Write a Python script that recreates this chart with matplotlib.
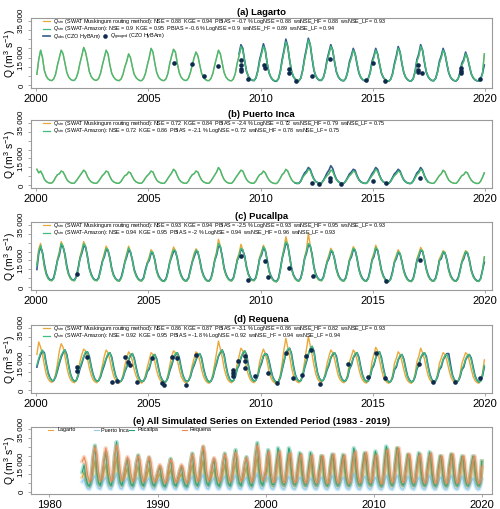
import numpy as np
import matplotlib.pyplot as plt

plt.rcParams['font.family'] = ['Liberation Sans', 'DejaVu Sans']
plt.rcParams['mathtext.fontset'] = 'custom'
plt.rcParams['mathtext.rm'] = 'Liberation Sans'
plt.rcParams['mathtext.it'] = 'Liberation Sans:italic'

# ---- data, discharge in 1000 m3/s, monthly values (Jan..Dec), 2000-2019 ----
lagarto_sim = [
    [6, 14, 19, 15, 8, 5, 3.5, 2.8, 2.6, 3.5, 6, 11],
    [15, 19, 17, 12, 7, 4.5, 3.3, 2.7, 2.7, 4, 7, 12],
    [16, 20.5, 18, 13, 7.5, 4.8, 3.5, 2.8, 2.8, 3.8, 6.5, 11],
    [15, 19, 17, 11, 6.5, 4.5, 3.3, 2.7, 2.6, 3.5, 6, 10],
    [13, 17, 15, 10, 6, 4.2, 3.2, 2.6, 2.6, 3.8, 6.5, 11],
    [15, 20, 18, 12, 7, 4.5, 3.3, 2.7, 2.6, 3.6, 6.5, 12],
    [16, 19.5, 18, 12, 7, 4.5, 3.3, 2.7, 2.7, 4, 7, 11],
    [15, 18, 16, 11, 6.5, 4.3, 3.2, 2.6, 2.6, 3.8, 6.5, 11],
    [15, 19, 17, 12, 7, 4.5, 3.3, 2.6, 2.5, 3.6, 6.5, 12],
    [16, 21, 19, 13, 7.5, 4.8, 3.5, 2.8, 2.7, 4, 7.5, 13],
    [17, 21, 19, 12, 7, 4.5, 3.2, 2.5, 2.4, 3.5, 7, 13],
    [18, 23.5, 21, 14, 8, 5, 3.5, 2.8, 2.6, 4, 8, 14],
    [19, 24.5, 22, 15, 8.5, 5.2, 3.6, 2.9, 2.8, 4.2, 7.5, 13],
    [17, 21, 19, 13, 7.5, 4.8, 3.4, 2.7, 2.6, 3.8, 7, 12],
    [15, 19, 17, 12, 7, 4.5, 3.3, 2.6, 2.6, 3.8, 6.5, 12],
    [15, 19, 17, 12, 7, 4.5, 3.2, 2.5, 2.4, 3.4, 6, 11],
    [15, 20, 18, 12, 7, 4.5, 3.2, 2.5, 2.5, 3.6, 7, 13],
    [16, 21, 19, 13, 7.5, 4.8, 3.4, 2.7, 2.6, 3.8, 7, 12],
    [15, 19, 17, 12, 7, 4.5, 3.3, 2.6, 2.5, 3.6, 6.5, 11],
    [13, 17, 15, 11, 6.5, 4.3, 3.2, 2.6, 2.5, 3.5, 6, 17],
]
# observed Lagarto, 2009-2019
lagarto_obs = [
    [17, 22, 20, 13, 7.5, 4.8, 3.4, 2.7, 2.6, 4, 8, 14],
    [18, 22.5, 19, 12, 6.8, 4.3, 3, 2.3, 2.2, 3.5, 7.5, 14],
    [19, 25, 21, 13.5, 7.5, 4.7, 3.3, 2.6, 2.5, 4, 8.5, 15],
    [20, 25.5, 22, 14.5, 8, 5, 3.4, 2.7, 2.7, 4.2, 8, 14],
    [18, 22, 19, 12.5, 7.2, 4.6, 3.3, 2.6, 2.5, 3.8, 7.5, 13],
    [16, 20, 17, 11.5, 6.7, 4.3, 3.1, 2.5, 2.5, 3.8, 7, 13],
    [16, 20, 17, 11.5, 6.7, 4.3, 3.1, 2.4, 2.3, 3.4, 6.5, 12],
    [16, 21, 18, 11.5, 6.8, 4.3, 3.1, 2.4, 2.4, 3.6, 7.5, 14],
    [17, 22, 19, 12.5, 7.2, 4.6, 3.3, 2.6, 2.5, 3.8, 7.5, 13],
    [16, 20, 17, 11.5, 6.7, 4.3, 3.1, 2.5, 2.4, 3.6, 7, 12],
    [14, 18, 15, 10.5, 6.3, 4.1, 3, 2.5, 2.4, 3.5, 6.5, 11],
]
lagarto_gauged_t = [2006.16, 2006.95, 2007.5, 2008.12, 2009.12, 2009.12, 2009.12, 2009.12,
                    2009.46, 2010.14, 2010.2, 2011.28, 2011.28, 2011.58, 2012.28, 2013.07,
                    2014.68, 2015.0, 2015.55, 2016.99, 2016.99, 2016.99, 2017.2, 2018.9,
                    2018.9, 2018.9, 2019.78]
lagarto_gauged_q = [12.1, 11.4, 5.2, 10.3, 13.7, 11, 8.6, 7.9, 3.4, 11, 9.5, 8.6, 6.5, 2.3,
                    5, 14.2, 2.9, 12.3, 2.3, 11, 8.3, 7.4, 6.5, 6.5, 9.2, 7.7, 3.6]

puerto_inca_sim = [
    [9, 7, 8, 6, 3.5, 2.2, 1.6, 1.3, 1.4, 2.5, 4.5, 6],
    [6.5, 8, 7.5, 5.5, 3.3, 2.1, 1.5, 1.2, 1.3, 2.5, 4, 5.5],
    [7, 8.5, 7.5, 5, 3.2, 2, 1.5, 1.2, 1.3, 2.4, 4, 5.5],
    [6.5, 8, 7.5, 5, 3, 2, 1.5, 1.2, 1.3, 2.3, 4, 5.5],
    [6, 7.5, 7, 4.8, 3, 2, 1.5, 1.2, 1.3, 2.5, 4.2, 5.5],
    [6.5, 8, 7.5, 5, 3, 2, 1.5, 1.2, 1.2, 2.3, 4, 5.5],
    [7, 9, 8, 5.5, 3.3, 2.1, 1.5, 1.2, 1.3, 2.5, 4.5, 6],
    [6.5, 8, 7.5, 5, 3, 2, 1.5, 1.2, 1.3, 2.5, 4.2, 6],
    [7.5, 10, 8.5, 5.5, 3.3, 2.1, 1.5, 1.2, 1.2, 2.3, 4, 5.5],
    [7, 8.5, 8, 5.5, 3.3, 2.1, 1.5, 1.2, 1.3, 2.5, 4.5, 6],
    [6.5, 8, 7, 4.8, 3, 1.9, 1.4, 1.1, 1.1, 2.2, 4, 6],
    [7, 9, 8, 5.5, 3.3, 2, 1.5, 1.2, 1.2, 2.4, 4.5, 6],
    [7, 9, 8.5, 5.5, 3.3, 2.1, 1.5, 1.2, 1.3, 2.5, 4.2, 5.5],
    [6.5, 8.5, 8, 5.3, 3.2, 2, 1.5, 1.2, 1.3, 2.4, 4, 5.5],
    [6.5, 8, 7.5, 5, 3, 2, 1.5, 1.2, 1.2, 2.3, 4, 5.5],
    [7, 9, 8, 5.3, 3.2, 2, 1.5, 1.2, 1.2, 2.3, 4, 5.5],
    [6.5, 8, 7.5, 5, 3, 1.9, 1.4, 1.1, 1.2, 2.3, 4.2, 6],
    [7, 9, 8, 5.3, 3.2, 2, 1.5, 1.2, 1.2, 2.3, 4, 5.5],
    [6.5, 8.5, 7.5, 5, 3, 2, 1.5, 1.2, 1.2, 2.3, 4, 5.5],
    [6, 7.5, 7, 4.8, 3, 1.9, 1.4, 1.1, 1.2, 2.3, 4.5, 7],
]
# observed Puerto Inca, Jul 2011 - Jun 2017
puerto_inca_obs = [1.4, 1.1, 1.2, 2.6, 5, 7,
                   8, 10, 9, 6, 3.6, 2.2, 1.6, 1.2, 1.3, 2.8, 4.8, 7,
                   8.5, 11, 9.5, 6, 3.5, 2.2, 1.5, 1.2, 1.2, 2.6, 4.5, 6.5,
                   7.5, 9, 8.5, 5.5, 3.3, 2.1, 1.5, 1.2, 1.2, 2.5, 4.5, 6.5,
                   8, 10, 9, 5.8, 3.4, 2.1, 1.5, 1.2, 1.2, 2.5, 4.5, 6.5,
                   7.5, 9, 8, 5.3, 3.1, 2, 1.4, 1.1, 1.2, 2.5, 4.8, 7,
                   8, 10, 8.5, 5.5, 3.3, 2]
puerto_inca_gauged_t = [2012.31, 2012.58, 2013.1, 2013.1, 2013.6, 2015.0, 2015.58, 2017.1]
puerto_inca_gauged_q = [1.6, 0.6, 4, 2.5, 0.6, 2.5, 1.2, 4]

pucallpa_sim = [
    [12, 20, 23.5, 19, 12, 7.5, 5, 4, 3.8, 5, 9, 15],
    [19, 24.5, 23, 18, 11, 7, 5, 4, 3.8, 5.5, 9.5, 16],
    [20, 24.5, 23, 17, 10.5, 7, 5, 4, 3.8, 5, 9, 14],
    [18, 21.8, 21, 16, 10, 6.5, 4.8, 3.8, 3.6, 5, 8.5, 14],
    [18, 22, 20, 15, 9.5, 6.5, 4.7, 3.8, 3.7, 5, 9, 13],
    [16, 20, 19.5, 15, 9, 6, 4.5, 3.6, 3.4, 4.5, 8, 14],
    [18, 21, 20.5, 16, 10, 6.5, 4.6, 3.7, 3.6, 5, 9, 14],
    [18, 20.8, 20, 15, 9.5, 6.3, 4.5, 3.6, 3.5, 4.8, 8.5, 15],
    [19, 24.5, 23, 17, 10.5, 7, 5, 3.9, 3.7, 5, 9, 15],
    [18, 21.8, 21, 17, 11, 7, 5, 4, 3.8, 5.2, 9.5, 16],
    [19, 22.7, 21, 15, 9, 6, 4.3, 3.4, 3.2, 4.5, 9, 16],
    [21, 25.5, 24, 17, 10.5, 6.8, 4.8, 3.8, 3.6, 5, 9, 16],
    [20, 24.5, 23.5, 18, 11, 7, 5, 4, 3.8, 5.2, 9, 14],
    [17, 20.8, 20, 15.5, 10, 6.5, 4.7, 3.8, 3.6, 5, 9, 15],
    [18, 21.8, 21, 16, 10, 6.5, 4.6, 3.7, 3.5, 4.8, 8.5, 15],
    [18, 22.3, 21, 15, 9.5, 6.2, 4.4, 3.5, 3.3, 4.5, 8, 14],
    [17, 20, 19, 14, 9, 6, 4.3, 3.5, 3.3, 4.5, 8.5, 15],
    [18, 21, 20.5, 15.5, 10, 6.5, 4.6, 3.7, 3.5, 4.8, 8.5, 15],
    [17, 20, 19.5, 15, 9.5, 6.2, 4.5, 3.6, 3.5, 4.8, 8.5, 14],
    [17, 20, 19.5, 15, 9.5, 6.2, 4.5, 3.6, 3.4, 4.6, 9, 17],
]
pucallpa_musk = [
    [13, 21.5, 24.5, 18.5, 11, 7, 4.8, 3.9, 3.7, 5, 9.5, 16],
    [20, 25.5, 23, 17, 10.5, 6.8, 4.8, 3.9, 3.7, 5.5, 10, 17],
    [21, 25.5, 23, 16.5, 10, 6.8, 4.8, 3.9, 3.7, 5, 9.5, 15],
    [19, 23, 21, 15.5, 9.5, 6.3, 4.7, 3.7, 3.5, 5, 9, 15],
    [19, 23, 20, 14.5, 9, 6.3, 4.6, 3.7, 3.6, 5, 9.5, 14],
    [17, 21, 19.5, 14.5, 8.5, 5.8, 4.4, 3.5, 3.3, 4.5, 8.5, 15],
    [19, 22.5, 20.5, 15.5, 9.5, 6.3, 4.5, 3.6, 3.5, 5, 9.5, 15],
    [19, 21.5, 20, 14.5, 9, 6.1, 4.4, 3.5, 3.4, 4.8, 9, 16],
    [20, 26.8, 23, 16.5, 10, 6.8, 4.9, 3.8, 3.6, 5, 9.5, 16],
    [19, 24, 21, 16.5, 10.5, 6.8, 4.9, 3.9, 3.7, 5.2, 10, 17],
    [20, 23.5, 21, 14.5, 8.5, 5.8, 4.2, 3.3, 3.1, 4.5, 9.5, 17],
    [22, 28.2, 24, 16.5, 10, 6.6, 4.7, 3.7, 3.5, 5, 9.5, 17],
    [21, 30, 23.5, 17.5, 10.5, 6.8, 4.9, 3.9, 3.7, 5.2, 9.5, 15],
    [18, 21.8, 20, 15, 9.5, 6.3, 4.6, 3.7, 3.5, 5, 9.5, 16],
    [19, 22.7, 21, 15.5, 9.5, 6.3, 4.5, 3.6, 3.4, 4.8, 9, 16],
    [19, 23.5, 21, 14.5, 9, 6, 4.3, 3.4, 3.2, 4.5, 8.5, 15],
    [18, 21, 19, 13.5, 8.5, 5.8, 4.2, 3.4, 3.2, 4.5, 9, 16],
    [19, 22.3, 20.5, 15, 9.5, 6.3, 4.5, 3.6, 3.4, 4.8, 9, 16],
    [18, 20.5, 19.5, 14.5, 9, 6, 4.4, 3.5, 3.4, 4.8, 9, 15],
    [18, 20.5, 19.5, 14.5, 9, 6, 4.4, 3.5, 3.3, 4.6, 9.5, 17],
]
pucallpa_obs = [
    [10, 19, 22.5, 19.5, 13, 8, 5.5, 4.3, 4, 5.5, 10, 15],
    [18, 23.5, 22.5, 18.5, 12, 7.5, 5.3, 4.2, 4, 6, 10.5, 16],
    [19, 23, 22.5, 17.5, 11, 7.5, 5.3, 4.2, 4, 5.5, 10, 14.5],
    [17, 21, 20.5, 16.5, 10.5, 7, 5, 4, 3.8, 5.5, 9.5, 14],
    [17, 21, 19.5, 15.5, 10, 7, 5, 4, 3.9, 5.5, 10, 13.5],
    [15, 19, 19, 15.5, 9.5, 6.5, 4.8, 3.8, 3.6, 5, 9, 14],
    [17, 20, 20, 16.5, 10.5, 7, 4.9, 3.9, 3.8, 5.5, 10, 14],
    [17, 20, 19.5, 15.5, 10, 6.8, 4.8, 3.8, 3.7, 5.2, 9.5, 15],
    [18, 23, 22.5, 17.5, 11, 7.5, 5.3, 4.1, 3.9, 5.5, 10, 15],
    [17, 21, 20.5, 17.5, 11.5, 7.5, 5.3, 4.2, 4, 5.7, 10.5, 16],
    [18, 22, 20.5, 15.5, 9.5, 6.5, 4.6, 3.6, 3.4, 5, 10, 16],
    [20, 24.5, 23.5, 17.5, 11, 7.2, 5.1, 4, 3.8, 5.5, 10, 16],
    [19, 23.5, 23, 18.5, 11.5, 7.5, 5.3, 4.2, 4, 5.7, 10, 14],
    [16, 20, 19.5, 16, 10.5, 7, 5, 4, 3.8, 5.5, 10, 15],
    [17, 21, 20.5, 16.5, 10.5, 7, 4.9, 3.9, 3.7, 5.3, 9.5, 15],
    [17, 21.5, 20.5, 15.5, 10, 6.7, 4.7, 3.7, 3.5, 5, 9, 14],
    [16, 19.5, 18.5, 14.5, 9.5, 6.5, 4.6, 3.7, 3.5, 5, 9.5, 15],
    [17, 20.5, 20, 16, 10.5, 7, 4.9, 3.9, 3.7, 5.3, 9.5, 15],
    [16, 19.5, 19, 15.5, 10, 6.7, 4.8, 3.8, 3.7, 5.3, 9.5, 14],
    [16, 19.5, 19, 15.5, 10, 6.7, 4.8, 3.8, 3.6, 5, 9.5, 14],
]
pucallpa_gauged_t = [2001.84, 2009.12, 2009.46, 2010.2, 2010.32, 2011.25, 2012.32, 2015.58, 2017.1]
pucallpa_gauged_q = [7.3, 17.5, 4.2, 14.7, 5.6, 10.6, 6.6, 3.8, 15.3]

requena_sim = [
    [14, 18, 21, 22.5, 20, 14, 9, 6.5, 5.3, 5.5, 8, 12],
    [16, 19.5, 21.5, 22.5, 19, 13, 8.5, 6, 5, 5.5, 8.5, 13],
    [16, 19, 21.5, 21.5, 18, 12.5, 8.5, 6, 5, 5.5, 8, 12],
    [15, 18, 20.5, 21, 17.5, 12, 8, 5.8, 4.8, 5.2, 7.5, 11],
    [14, 17.5, 20, 20.5, 17, 12, 8, 5.8, 4.8, 5.3, 7.5, 11],
    [13, 16.5, 19.5, 20, 16.5, 11.5, 7.5, 5.5, 4.5, 5, 7.5, 12],
    [15, 18, 20.5, 21, 17.5, 12, 8, 5.8, 4.8, 5.5, 8, 12],
    [15, 17.5, 20, 20.5, 17, 11.5, 7.8, 5.6, 4.6, 5.2, 7.8, 12],
    [16, 19.5, 21.5, 22.5, 19, 13, 8.5, 6, 5, 5.5, 8, 12.5],
    [15, 18.5, 21, 22, 19, 13, 8.5, 6, 5, 5.8, 8.5, 13],
    [16, 19.5, 20.5, 19.5, 15.5, 10.5, 7, 5.2, 4.3, 4.8, 7.5, 12],
    [17, 21, 23, 23.5, 19.5, 13, 8.5, 6, 5, 5.5, 8.5, 13],
    [17, 20.5, 23.5, 24.5, 21, 14, 9, 6.3, 5.2, 5.7, 8.5, 12],
    [15, 18.5, 20.5, 21, 18, 12.5, 8.2, 6, 5, 5.5, 8, 12.5],
    [15, 18.5, 20.5, 21, 17.5, 12, 8, 5.8, 4.8, 5.3, 8, 12.5],
    [15, 18.5, 21, 21.5, 17.5, 12, 7.8, 5.6, 4.6, 5, 7.5, 12],
    [14, 17.5, 19.5, 20, 16.5, 11.5, 7.6, 5.5, 4.6, 5.2, 8, 12.5],
    [15, 18.5, 20.5, 21, 18, 12.5, 8.2, 5.8, 4.8, 5.3, 8, 12],
    [14, 17.5, 19.5, 20, 17, 12, 8, 5.7, 4.7, 5.2, 7.8, 12],
    [14, 17.5, 19.5, 20, 17, 12, 7.8, 5.6, 4.6, 5.2, 8.5, 14],
]
requena_musk = [
    [20, 27, 24, 20, 14, 9, 6.5, 5, 4.5, 5.5, 9, 15],
    [22, 26, 24, 19, 13, 8.5, 6, 4.8, 4.3, 5.5, 9.5, 16],
    [20, 23, 22, 18, 12.5, 8.5, 6, 4.8, 4.3, 5.5, 9, 14],
    [19, 22.5, 21, 17, 12, 8, 5.8, 4.6, 4.1, 5.2, 8.5, 14],
    [18, 21.5, 20, 16.5, 11.5, 8, 5.8, 4.6, 4.1, 5.3, 8.5, 13],
    [17, 21, 20, 16, 11, 7.5, 5.5, 4.4, 4, 5, 8.5, 14],
    [19, 22, 21, 17, 12, 8, 5.8, 4.6, 4.1, 5.5, 9, 14],
    [18, 21.5, 20.5, 16.5, 11.5, 7.8, 5.6, 4.5, 4, 5.2, 9, 15],
    [21, 27.5, 23, 18.5, 12.5, 8.5, 6, 4.8, 4.3, 5.5, 9, 15],
    [19, 23.5, 22, 18, 12.5, 8.5, 6, 4.8, 4.3, 5.8, 9.5, 16],
    [20, 23, 20.5, 16, 10.5, 7, 5.2, 4.2, 3.8, 4.8, 8.5, 15],
    [23, 29, 24, 19, 13, 8.5, 6, 4.8, 4.3, 5.5, 9.5, 16],
    [23, 30, 25, 20, 14, 9, 6.3, 5, 4.5, 5.7, 9.5, 15],
    [19, 22.5, 21, 17.5, 12.5, 8.2, 6, 4.8, 4.3, 5.5, 9, 16],
    [19, 22.5, 21, 17, 12, 8, 5.8, 4.6, 4.1, 5.3, 9, 16],
    [20, 24, 22, 17, 12, 7.8, 5.6, 4.5, 4, 5, 8.5, 15],
    [18, 21.5, 20, 16, 11.5, 7.6, 5.5, 4.4, 4, 5.2, 9, 16],
    [19, 23.5, 21, 17.5, 12.5, 8.2, 5.8, 4.6, 4.1, 5.3, 9, 15],
    [18, 21, 20, 16.5, 12, 8, 5.7, 4.5, 4.1, 5.2, 8.8, 15],
    [18, 21, 20, 16.5, 12, 7.8, 5.6, 4.5, 4, 5.2, 9.5, 17],
]
requena_obs = [
    [13, 17, 20, 22, 21, 15, 10, 7, 5.5, 5.5, 7.5, 11],
    [15, 18.5, 21, 22.5, 20, 14, 9, 6.3, 5.2, 5.5, 8, 12],
    [15, 18.5, 21, 21.5, 19, 13.5, 9, 6.3, 5.2, 5.5, 7.5, 11],
    [14, 17.5, 20, 21, 18.5, 13, 8.5, 6, 5, 5.2, 7, 10.5],
    [13, 17, 19.5, 20.5, 18, 13, 8.5, 6, 5, 5.3, 7, 10.5],
    [12, 16, 19, 20, 17.5, 12.5, 8, 5.8, 4.7, 5, 7, 11],
    [14, 17.5, 20, 21, 18.5, 13, 8.5, 6, 5, 5.5, 7.5, 11.5],
    [14, 17, 19.5, 20.5, 18, 12.5, 8.3, 5.8, 4.8, 5.2, 7.3, 11.5],
    [15, 19, 21, 22.5, 20, 14, 9, 6.3, 5.2, 5.5, 7.5, 12],
    [14, 18, 20.5, 22, 20, 14, 9, 6.3, 5.2, 5.8, 8, 12.5],
    [15, 19, 20.5, 20, 16.5, 11.5, 7.5, 5.5, 4.5, 4.8, 7, 11.5],
    [16, 20.5, 22.5, 23.5, 20.5, 14, 9, 6.3, 5.2, 5.5, 8, 12.5],
    [16, 20, 23, 24.5, 22, 15, 9.5, 6.6, 5.4, 5.7, 8, 11.5],
    [14, 18, 20, 21, 19, 13.5, 8.7, 6.3, 5.2, 5.5, 7.5, 12],
    [14, 18, 20, 21, 18.5, 13, 8.5, 6, 5, 5.3, 7.5, 12],
    [14, 18, 20.5, 21.5, 18.5, 13, 8.3, 5.9, 4.8, 5, 7, 11.5],
    [13, 17, 19, 20, 17.5, 12.5, 8, 5.8, 4.8, 5.2, 7.5, 12],
    [14, 18, 20, 21, 19, 13.5, 8.7, 6, 5, 5.3, 7.5, 11.5],
    [13, 17, 19, 20.5, 20.5, 14, 8.5, 6, 4.9, 5.2, 7.3, 11.5],
    [13, 17, 19, 20, 18, 13, 8.3, 5.9, 4.8, 5.2, 8, 13],
]
requena_gauged_t = [2001.84, 2001.81, 2002.26, 2003.4, 2003.6, 2003.97, 2004.11, 2004.19, 2004.52,
                    2005.15, 2005.6, 2005.7, 2006.05, 2006.28, 2006.7, 2007.12, 2008.75, 2008.75,
                    2008.75, 2009.01, 2009.3, 2009.3, 2009.3, 2009.76, 2010.35, 2010.75, 2011.12,
                    2011.46, 2011.83, 2012.03, 2012.24, 2012.65, 2013.91, 2014.8, 2015.14, 2015.55,
                    2017.03, 2017.67, 2018.66, 2019.78]
requena_gauged_q = [13.2, 10.8, 18.8, 4.9, 5.3, 18.8, 15.6, 14.2, 4.5, 18.2, 4, 3, 18.8, 18.2, 3,
                    19.7, 11.4, 9.5, 8.2, 16.4, 19.2, 16.4, 12.7, 8.2, 9.5, 4, 20.6, 6.8, 8.6, 19.4,
                    22.5, 3.4, 14.5, 7.7, 20.6, 7.1, 14.5, 4.5, 4.9, 6.8]

# extended simulation 1983-1999, values for Jan, Mar, May, Jul, Sep, Nov
lagarto_ext = [
    [8, 11, 6, 3.2, 2.5, 5], [13, 17, 8.5, 3.8, 2.8, 6], [12, 15, 7.5, 3.5, 2.7, 5.5],
    [14, 19, 9, 4, 2.9, 6], [10, 13, 7, 3.4, 2.6, 5.5], [11, 14, 7, 3.4, 2.6, 5.5],
    [10, 13, 6.5, 3.3, 2.5, 5], [8, 10, 5.5, 3, 2.3, 5], [10, 12.5, 6.5, 3.3, 2.5, 5],
    [8, 10, 5.5, 3, 2.3, 5], [11, 15, 7.5, 3.5, 2.6, 5.5], [13, 17, 8.5, 3.8, 2.8, 5.5],
    [10, 12.5, 6.5, 3.3, 2.5, 5.5], [11, 15, 7.5, 3.5, 2.6, 5.5], [12, 16, 8, 3.6, 2.7, 6],
    [10, 13.5, 7, 3.4, 2.5, 6], [14, 19, 9, 4, 2.9, 6],
]
puerto_inca_ext = [
    [5.5, 7, 3.5, 1.6, 1.3, 4], [7, 9, 4, 1.8, 1.4, 4.5], [6.5, 8, 3.8, 1.7, 1.3, 4.2],
    [7.5, 10, 4.2, 1.8, 1.4, 4.5], [6, 7.5, 3.6, 1.6, 1.3, 4.2], [6.5, 8, 3.8, 1.7, 1.3, 4.3],
    [6, 7.5, 3.6, 1.6, 1.3, 4], [5.5, 7, 3.4, 1.5, 1.2, 4], [6.5, 8, 3.8, 1.7, 1.3, 4.2],
    [5.5, 7, 3.4, 1.5, 1.2, 4], [6.5, 8.5, 3.9, 1.7, 1.3, 4.3], [7.5, 9.5, 4.1, 1.8, 1.4, 4.5],
    [6, 7.5, 3.6, 1.6, 1.3, 4.2], [6.5, 8.5, 3.9, 1.7, 1.3, 4.3], [7, 9, 4, 1.7, 1.4, 4.5],
    [6.5, 8, 3.8, 1.7, 1.3, 4.3], [7.5, 10, 4.2, 1.8, 1.4, 4.5],
]
pucallpa_ext = [
    [11, 15, 8, 4, 3.2, 7], [19, 26, 12, 5, 3.6, 9], [17, 22, 11, 4.8, 3.5, 8],
    [20, 28, 13, 5.2, 3.7, 9], [14, 18, 9, 4.3, 3.3, 8], [16, 20.5, 10, 4.5, 3.4, 8.5],
    [15, 19, 9.5, 4.4, 3.3, 7.5], [11, 14, 7.5, 3.8, 3, 7], [14, 18.5, 9, 4.3, 3.3, 7.5],
    [11, 14, 7, 3.7, 2.9, 7.5], [16, 21.5, 10.5, 4.6, 3.4, 8.5], [19, 25, 12, 5, 3.6, 8.5],
    [14, 18, 9, 4.3, 3.2, 8], [16, 21.5, 10.5, 4.6, 3.4, 8.5], [18, 23.5, 11, 4.8, 3.5, 9],
    [15, 19.5, 9.5, 4.4, 3.3, 9], [20, 27.5, 13, 5.2, 3.7, 9],
]
requena_ext = [
    [17, 19.5, 16, 9, 5.5, 7], [19, 25, 21, 11, 6, 8], [18, 24.5, 20, 10.5, 5.8, 7.5],
    [20, 26, 22, 11.5, 6.2, 8], [15, 19.5, 17, 9.5, 5.5, 7.5], [16, 20, 17.5, 9.5, 5.5, 7.5],
    [15, 19.5, 16.5, 9, 5.3, 7], [12, 15, 13, 7.5, 4.8, 6.5], [14, 18, 16, 8.5, 5.2, 7],
    [12, 15, 13, 7.5, 4.7, 7], [16, 21, 18, 10, 5.7, 7.5], [19, 25.5, 21.5, 11, 6, 8],
    [15, 19, 16.5, 9, 5.3, 7.5], [16, 21, 18, 9.5, 5.5, 7.5], [17, 22, 19, 10, 5.7, 8],
    [15, 19, 16.5, 9, 5.3, 8], [19, 26, 22.5, 11.5, 6.2, 8],
]

panel_titles = ['(a) Lagarto', '(b) Puerto Inca', '(c) Pucallpa', '(d) Requena']
musk_stats = ['NSE = 0.88  KGE = 0.94  PBIAS = -0.7 % LogNSE = 0.88  wsNSE_HF = 0.88  wsNSE_LF = 0.93',
              'NSE = 0.72  KGE = 0.84  PBIAS = -2.4 % LogNSE = 0.72  wsNSE_HF = 0.79  wsNSE_LF = 0.75',
              'NSE = 0.93  KGE = 0.94  PBIAS = -2.5 % LogNSE = 0.93  wsNSE_HF = 0.95  wsNSE_LF = 0.93',
              'NSE = 0.86  KGE = 0.87  PBIAS = -3.1 % LogNSE = 0.86  wsNSE_HF = 0.82  wsNSE_LF = 0.93']
amazon_stats = ['NSE = 0.9  KGE = 0.95  PBIAS = -0.6 % LogNSE = 0.9  wsNSE_HF = 0.89  wsNSE_LF = 0.94',
                'NSE = 0.72  KGE = 0.86  PBIAS = -2.1 % LogNSE = 0.72  wsNSE_HF = 0.78  wsNSE_LF = 0.75',
                'NSE = 0.94  KGE = 0.95  PBIAS = -2 % LogNSE = 0.94  wsNSE_HF = 0.96  wsNSE_LF = 0.93',
                'NSE = 0.92  KGE = 0.95  PBIAS = -1.8 % LogNSE = 0.92  wsNSE_HF = 0.94  wsNSE_LF = 0.94']
station_names = ['Lagarto', 'Puerto Inca', 'Pucallpa', 'Requena']

C_MUSK = '#EBA83A'
C_AMZ = '#3DBE7E'
C_OBS = '#335C8C'
C_DOT = '#0E2B4D'
C_EXT = ['#EDA53A', '#8DCBF0', '#1FA57A', '#E98A55']
FRAME = '#9a9a9a'

W, H = 500.0, 509.0
tops = [18, 120, 222, 325, 427]
bots = [88, 188, 290, 393, 494]
left, right = 31, 492


def monthly_t(start_year, n, start_month=1):
    k = np.arange(n) + start_month - 1
    return start_year + (k + 0.5) / 12.0


def style_axes(ax, xlim, xticks):
    ax.set_xlim(*xlim)
    ax.set_ylim(-1400, 36400)
    ax.set_xticks(xticks)
    ax.set_xticklabels([str(x) for x in xticks], fontsize=8)
    ax.set_yticks(np.arange(0, 35001, 5000))
    ax.set_yticklabels(['0', '', '', '15 000', '', '', '', '35 000'], fontsize=5.8,
                       rotation=90, va='center')
    ax.tick_params(axis='both', length=2.5, width=0.6, color=FRAME, pad=1.5)
    for s in ax.spines.values():
        s.set_color(FRAME)
        s.set_linewidth(0.8)
    ax.set_ylabel('Q (m$^3$ s$^{-1}$)', fontsize=7.5, va='center')
    ax.yaxis.set_label_coords(-0.045, 0.5)


def to_axes(i, x_px, y_px):
    # pixel position inside panel i -> axes fraction
    return (x_px - left) / (right - left), 1 - (y_px - tops[i]) / (bots[i] - tops[i])


def key_line(ax, i, x0, x1, y, color, lw=0.9):
    a0, b = to_axes(i, x0, y)
    a1, _ = to_axes(i, x1, y)
    ax.plot([a0, a1], [b, b], color=color, lw=lw, transform=ax.transAxes, clip_on=False)


def key_text(ax, i, x, y, s, size):
    a, b = to_axes(i, x, y)
    ax.text(a, b, s, transform=ax.transAxes, fontsize=size, va='center', ha='left')


fig = plt.figure(figsize=(5.0, 5.09), dpi=100)

sim_sets = [lagarto_sim, puerto_inca_sim, pucallpa_sim, requena_sim]
musk_sets = [lagarto_sim, puerto_inca_sim, pucallpa_musk, requena_musk]
obs_sets = [(lagarto_obs, 2009, 1), (puerto_inca_obs, 2011, 7), (pucallpa_obs, 2000, 1),
            (requena_obs, 2000, 1)]
dot_sets = [(lagarto_gauged_t, lagarto_gauged_q), (puerto_inca_gauged_t, puerto_inca_gauged_q),
            (pucallpa_gauged_t, pucallpa_gauged_q), (requena_gauged_t, requena_gauged_q)]

FS_KEY = 3.9
for i in range(4):
    ax = fig.add_axes([left / W, 1 - bots[i] / H, (right - left) / W, (bots[i] - tops[i]) / H])
    sim = np.ravel(sim_sets[i]) * 1000
    musk = np.ravel(musk_sets[i]) * 1000
    obs_vals, oy, om = obs_sets[i]
    obs = np.ravel(obs_vals) * 1000
    t = monthly_t(2000, len(sim))
    ax.plot(t, musk, color=C_MUSK, lw=1.0)
    ax.plot(monthly_t(oy, len(obs), om), obs, color=C_OBS, lw=1.2)
    ax.plot(t, sim, color=C_AMZ, lw=1.0)
    ax.scatter(dot_sets[i][0], np.array(dot_sets[i][1]) * 1000, s=11, color=C_DOT,
               zorder=5, linewidths=0)
    style_axes(ax, (1999.78, 2020.3), [2000, 2005, 2010, 2015, 2020])
    ax.set_title(panel_titles[i], fontsize=6.8, fontweight='bold', pad=2)

    y1, y2, y3 = tops[i] + 3.3, tops[i] + 10.8, tops[i] + 18.3
    key_line(ax, i, 42.5, 50, y1, C_MUSK)
    key_text(ax, i, 53, y1, r'$Q_{\mathrm{sim}}$ (SWAT Muskingum routing method): ' + musk_stats[i], FS_KEY)
    key_line(ax, i, 42.5, 50, y2, C_AMZ)
    key_text(ax, i, 53, y2, r'$Q_{\mathrm{sim}}$ (SWAT-Amazon): ' + amazon_stats[i], FS_KEY)
    if i == 0:
        key_line(ax, i, 42.5, 50, y3, C_OBS, lw=1.2)
        key_text(ax, i, 53, y3, r'$Q_{\mathrm{obs}}$ (CZO HyBAm)', FS_KEY)
        a, b = to_axes(i, 105, y3)
        ax.plot([a], [b], 'o', ms=3.3, color=C_DOT, mec='none', transform=ax.transAxes,
                clip_on=False)
        key_text(ax, i, 110, y3 + 0.9, r'$Q_{\mathrm{gauged}}$ (CZO HyBAm)', FS_KEY)

# panel (e)
ax = fig.add_axes([left / W, 1 - bots[4] / H, (right - left) / W, (bots[4] - tops[4]) / H])
ext_sets = [lagarto_ext, puerto_inca_ext, pucallpa_ext, requena_ext]
t_old = (np.arange(1983, 2000)[:, None] + (np.array([1, 3, 5, 7, 9, 11]) - 0.5) / 12.0).ravel()
t_new = monthly_t(2000, 240)
for k in range(4):
    tt = np.concatenate([t_old, t_new])
    qq = np.concatenate([np.ravel(ext_sets[k]), np.ravel(sim_sets[k])]) * 1000
    ax.plot(tt, qq, color=C_EXT[k], lw=3.0, alpha=0.35)
    ax.plot(tt, qq, color=C_EXT[k], lw=0.8)
style_axes(ax, (1978.3, 2020.9), [1980, 1990, 2000, 2010, 2020])
ax.set_title('(e) All Simulated Series on Extended Period (1983 - 2019)', fontsize=6.8,
             fontweight='bold', pad=2)
key_x = [(48, 53, 57), (94, 99, 101), (129, 134, 137), (182, 187, 190)]
ye = tops[4] + 3
for k in range(4):
    key_line(ax, 4, key_x[k][0], key_x[k][1], ye, C_EXT[k], lw=0.8)
    key_text(ax, 4, key_x[k][2], ye, station_names[k], 3.9)

fig.savefig('out.png', dpi=100)
